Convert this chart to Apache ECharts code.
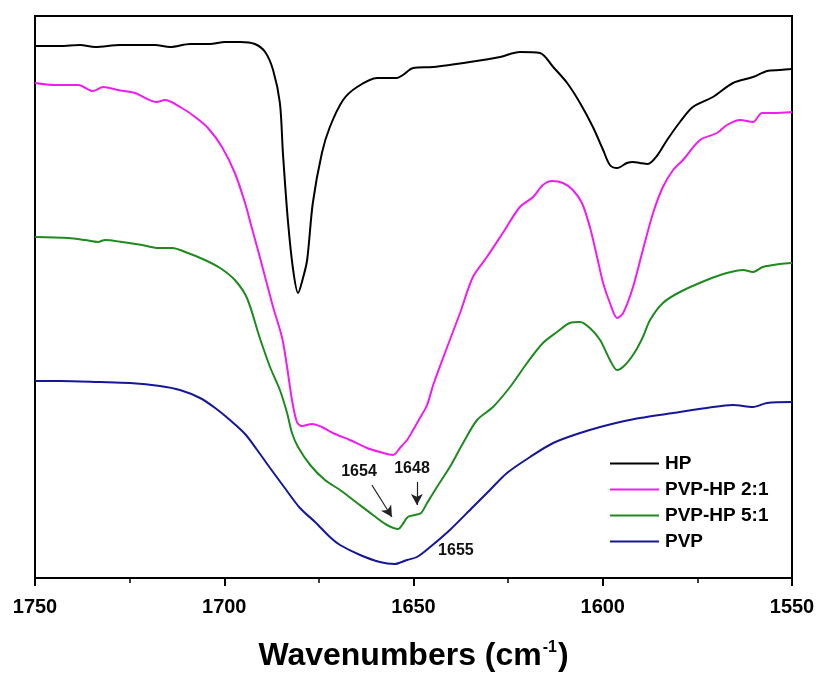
<!DOCTYPE html>
<html>
<head>
<meta charset="utf-8">
<title>FTIR spectra</title>
<script src="https://cdn.jsdelivr.net/npm/echarts@6/dist/echarts.min.js"></script>
<style>
  html, body { margin: 0; padding: 0; background: #fff; }
  #chart { width: 819px; height: 673px; }
</style>
</head>
<body>
<div id="chart"></div>
<script>
// FTIR spectra in the amide/carbonyl region, curves offset vertically (a.u.)
// Each point: [wavenumber (cm-1), transmittance (a.u.)]
const seriesNames = ['HP', 'PVP-HP 2:1', 'PVP-HP 5:1', 'PVP'];
const seriesColors = ['#000000', '#f01cf0', '#1f8a1f', '#16169a'];

const hp = [
  [1750, 532], [1743.4, 532], [1738.1, 533], [1734.1, 531], [1727.5, 533],
  [1718.3, 533], [1714.3, 531], [1709.0, 534], [1703.8, 534], [1699.8, 536],
  [1695.8, 536], [1691.9, 534], [1689.2, 526], [1687.1, 508], [1685.3, 475],
  [1684.5, 425], [1683.2, 358], [1681.8, 308], [1680.5, 285], [1679.2, 300],
  [1678.1, 318], [1676.6, 375], [1674.2, 425], [1672.1, 451], [1668.6, 478],
  [1664.9, 491], [1659.6, 500], [1654.4, 500], [1652.8, 503], [1650.1, 510],
  [1644.8, 511], [1635.1, 516], [1627.1, 521], [1621.9, 526], [1616.6, 525],
  [1613.1, 511], [1609.4, 495], [1606.0, 475], [1602.6, 451], [1599.9, 428],
  [1598.1, 413], [1596.2, 410], [1593.6, 415], [1592.0, 416], [1590.2, 415],
  [1588.1, 414], [1585.7, 422], [1583.0, 438], [1579.6, 456], [1576.2, 471],
  [1570.9, 481], [1565.6, 495], [1560.3, 501], [1556.6, 507], [1553.2, 508],
  [1550, 509]
];

const pvpHp21 = [
  [1750, 495], [1744.7, 493], [1738.6, 493], [1734.7, 487], [1732.0, 491],
  [1728.1, 488], [1723.6, 485], [1717.8, 476], [1715.7, 478], [1711.2, 470],
  [1707.7, 461], [1704.3, 450], [1700.6, 431], [1697.2, 405], [1694.5, 375],
  [1692.7, 350], [1690.6, 321], [1687.1, 271], [1684.7, 240], [1683.4, 211],
  [1682.1, 178], [1680.8, 156], [1679.5, 152], [1676.8, 154], [1674.2, 151],
  [1671.3, 145], [1666.8, 138], [1662.3, 130], [1658.9, 126], [1655.4, 123],
  [1653.6, 130], [1651.7, 138], [1650.1, 148], [1648.3, 160], [1646.4, 173],
  [1644.8, 193], [1641.1, 231], [1637.7, 265], [1634.3, 301], [1630.6, 321],
  [1626.4, 345], [1621.9, 371], [1618.4, 381], [1615.8, 393], [1613.4, 397],
  [1610.5, 395], [1607.9, 388], [1605.5, 375], [1603.4, 351], [1601.5, 321],
  [1599.9, 295], [1598.1, 275], [1596.2, 260], [1594.6, 265], [1592.0, 291],
  [1589.4, 328], [1586.7, 365], [1584.1, 391], [1581.4, 408], [1578.8, 418],
  [1574.3, 438], [1569.8, 445], [1567.2, 453], [1563.7, 458], [1560.3, 456],
  [1557.9, 465], [1555.0, 465], [1550, 466]
];

const pvpHp51 = [
  [1750, 341], [1741.3, 340], [1736.8, 338], [1733.4, 336], [1731.5, 338],
  [1727.0, 336], [1721.7, 333], [1717.5, 330], [1713.8, 330], [1709.6, 325],
  [1705.1, 318], [1701.1, 310], [1697.2, 298], [1694.0, 280],
  [1690.6, 240], [1687.9, 211], [1685.3, 188], [1683.4, 165], [1682.1, 145],
  [1680.5, 131], [1677.3, 113], [1673.4, 98], [1669.4, 88], [1664.9, 75],
  [1660.7, 63], [1657.0, 53], [1654, 49], [1653.0, 53], [1651.5, 61],
  [1649.6, 63], [1648, 65], [1646.4, 75], [1643.8, 91], [1640.4, 111],
  [1636.9, 135], [1633.2, 158], [1629.0, 171], [1624.5, 191], [1620.0, 215],
  [1615.8, 235], [1612.1, 246], [1608.7, 255], [1606.0, 256], [1603.4, 250],
  [1600.7, 238], [1598.1, 218], [1596.2, 208], [1594.1, 213], [1591.5, 226],
  [1589.4, 241], [1587.5, 258], [1584.1, 275], [1579.6, 286], [1572.5, 298],
  [1567.2, 305], [1562.9, 308], [1560.3, 306], [1557.7, 311], [1553.2, 314],
  [1550, 315]
];

const pvp = [
  [1750, 197], [1743.4, 197], [1732.8, 196], [1724.9, 195], [1717.0, 192],
  [1711.7, 188], [1706.4, 180], [1702.4, 170], [1698.5, 158], [1694.5, 144],
  [1691.3, 128], [1687.9, 110], [1684.0, 90], [1680.0, 70], [1676.0, 56],
  [1672.1, 41], [1669.4, 33], [1664.1, 23], [1658.9, 16], [1655, 14],
  [1651.7, 18], [1649.1, 21], [1645.6, 31], [1640.4, 48], [1634.3, 71],
  [1629.8, 88], [1625.3, 105], [1619.2, 121], [1613.1, 135], [1606.0, 145],
  [1600.7, 151], [1595.4, 156], [1590.2, 160], [1581.4, 165], [1572.5, 170],
  [1565.6, 173], [1560.3, 171], [1556.6, 175], [1550, 176]
];

// Peak annotations: [text, label position [wn, a.u.]]
const peakLabels = [
  ['1654', [1664.4, 106]],
  ['1648', [1650.4, 109]],
  ['1655', [1638.8, 27]]
];
// Arrows pointing at the PVP-HP 5:1 features: [from, to]
const peakArrows = [
  [[1661.0, 93], [1655.7, 61]],
  [[1649.1, 96], [1649.1, 73]]
];

const xTicks = { min: 1550, max: 1750, interval: 50 };
const FONT = '"Liberation Sans", Arial, sans-serif';

const chart = echarts.init(document.getElementById('chart'), null, { renderer: 'canvas' });

const datasets = [hp, pvpHp21, pvpHp51, pvp];

const series = datasets.map((d, i) => ({
  name: seriesNames[i],
  type: 'line',
  data: d,
  showSymbol: false,
  symbol: 'none',
  smooth: 0.3,
  lineStyle: { color: seriesColors[i], width: 2 },
  itemStyle: { color: seriesColors[i] },
  z: 3,
  animation: false
}));

// annotation layer
series.push({
  name: 'annotations',
  type: 'line',
  data: [],
  silent: true,
  animation: false,
  markPoint: {
    symbol: 'circle',
    symbolSize: 0,
    animation: false,
    label: {
      show: true,
      position: 'inside',
      color: '#111',
      fontFamily: FONT,
      fontWeight: 'bold',
      fontSize: 16
    },
    data: peakLabels.map(p => ({ coord: p[1], value: p[0], label: { formatter: p[0] } }))
  },
  markLine: {
    silent: true,
    animation: false,
    symbol: ['none', 'arrow'],
    symbolSize: [9, 11],
    label: { show: false },
    lineStyle: { color: '#222', width: 1.2, type: 'solid' },
    data: peakArrows.map(a => [{ coord: a[0] }, { coord: a[1] }])
  }
});

chart.setOption({
  backgroundColor: '#ffffff',
  animation: false,
  grid: {
    left: 35, right: 27, top: 16, bottom: 95,
    outerBoundsMode: 'none',
    containLabel: false,
    show: true, borderColor: '#000', borderWidth: 2, backgroundColor: 'transparent'
  },
  legend: {
    data: seriesNames,
    orient: 'vertical',
    left: 605,
    top: 449,
    itemWidth: 49,
    itemHeight: 2,
    itemGap: 7,
    icon: 'rect',
    textStyle: { color: '#000', fontFamily: FONT, fontWeight: 'bold', fontSize: 19, lineHeight: 19, padding: [0, 0, 0, 1] },
    selectedMode: false
  },
  xAxis: {
    type: 'value',
    inverse: true,
    min: xTicks.min,
    max: xTicks.max,
    interval: xTicks.interval,
    axisLine: { show: true, onZero: false, lineStyle: { color: '#000', width: 2 } },
    axisTick: { show: true, inside: false, length: 8, lineStyle: { color: '#000', width: 2 } },
    minorTick: { show: true, splitNumber: 2, length: 5, lineStyle: { color: '#000', width: 1.5 } },
    splitLine: { show: false },
    axisLabel: {
      color: '#000', fontFamily: FONT, fontWeight: 'bold', fontSize: 20, margin: 19,
      formatter: v => String(v)
    },
    name: '{a|Wavenumbers (cm}{s|-1}{a|)}',
    nameLocation: 'middle',
    nameGap: 62,
    nameTextStyle: {
      rich: {
        a: { fontFamily: FONT, fontWeight: 'bold', fontSize: 32, color: '#000' },
        s: { fontFamily: FONT, fontWeight: 'bold', fontSize: 16, color: '#000', padding: [0, 1, 16, 1] }
      }
    }
  },
  yAxis: {
    type: 'value',
    min: 0,
    max: 562,
    axisLine: { show: false },
    axisTick: { show: false },
    axisLabel: { show: false },
    splitLine: { show: false }
  },
  series: series
});
</script>
</body>
</html>
